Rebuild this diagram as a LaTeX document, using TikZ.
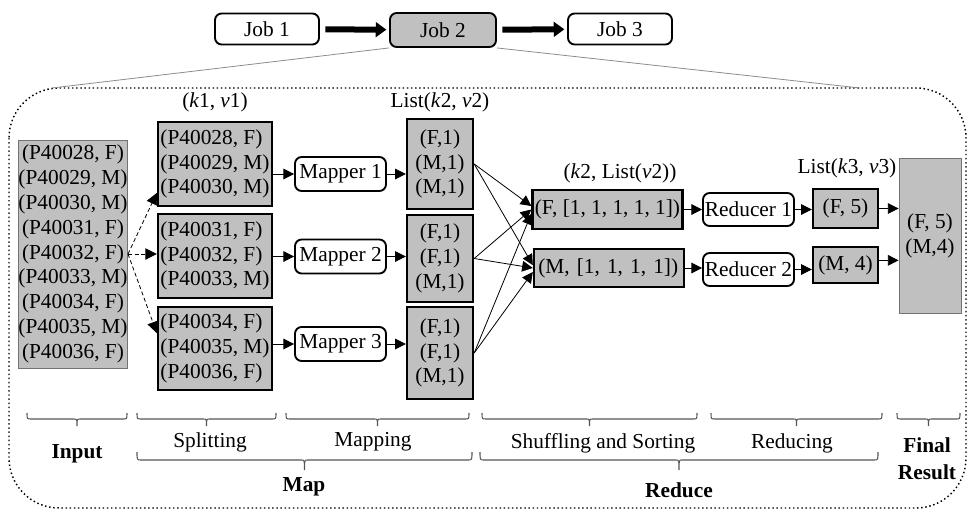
\documentclass[tikz,border=0pt]{standalone}
\usepackage{fontspec}
\setmainfont{Liberation Serif}
\usetikzlibrary{arrows.meta}
\definecolor{boxgray}{RGB}{192,192,192}
\definecolor{bracegray}{RGB}{85,85,85}
\newcommand{\mybrace}[5]{%
  \draw[bracestyle] (#1,#3) .. controls (#1,{#3+#4}) .. ({#1+4},{#3+#4})
    -- ({(#1+#2)/2-3},{#3+#4}) .. controls ({(#1+#2)/2},{#3+#4}) .. ({(#1+#2)/2},{#3+#4+#5})
    .. controls ({(#1+#2)/2},{#3+#4}) .. ({(#1+#2)/2+3},{#3+#4})
    -- ({#2-4},{#3+#4}) .. controls (#2,{#3+#4}) .. (#2,#3);}
\begin{document}
\begin{tikzpicture}[x=0.75pt,y=-0.75pt,
  every node/.style={font=\fontsize{16pt}{18.6pt}\selectfont, inner sep=0pt},
  inbox/.style={fill=boxgray, draw=black!55, line width=0.7pt, align=center},
  gbox/.style={fill=boxgray, draw=black, line width=1.8pt},
  rbox/.style={fill=white, draw=black, line width=1.4pt, rounded corners=5pt},
  arr/.style={-{Triangle[length=8pt,width=8pt]}, line width=0.6pt},
  darr/.style={-{Triangle[length=8.5pt,width=8.5pt]}, line width=0.6pt, dash pattern=on 3pt off 2pt},
  bigarr/.style={-{Triangle[length=8pt,width=11pt]}, line width=4.5pt, shorten <=4pt, shorten >=2pt},
  bold/.style={font=\fontsize{16pt}{20.25pt}\selectfont\bfseries},
  bracestyle/.style={draw=bracegray, line width=0.8pt},
  zoomline/.style={draw=black!45, line width=0.6pt}
]
\useasboundingbox (0,0) rectangle (968,511);

% dotted frame
\draw[dotted, line width=1.1pt, rounded corners=37.5pt] (9,88) rectangle (966,508);

% top jobs
\node[rbox, minimum width=78pt, minimum height=23.25pt] (J1) at (267,29) {Job 1};
\node[rbox, fill=boxgray, minimum width=79.5pt, minimum height=25.5pt] (J2) at (443,30) {Job 2};
\node[rbox, minimum width=78pt, minimum height=23.25pt] (J3) at (620,29) {Job 3};
\draw[bigarr] (J1) -- (J2);
\draw[bigarr] (J2) -- (J3);
\coordinate (zl) at (52,88);
\coordinate (zr) at (860,88);
\draw[zoomline] (J2.south west) -- (zl);
\draw[zoomline] (J2.south east) -- (zr);

% input
\node[inbox, minimum width=81pt, minimum height=171pt] (In) at (73,254)
  {(P40028, F)\\(P40029, M)\\(P40030, M)\\(P40031, F)\\(P40032, F)\\(P40033, M)\\(P40034, F)\\(P40035, M)\\(P40036, F)};

% splits
\node (lk1) at (215,102) {(\textit{k}1, \textit{v}1)};
\node[gbox, align=left, minimum width=85.5pt, minimum height=63pt] (S1) at (215,164) {(P40028, F)\\(P40029, M)\\(P40030, M)};
\node[gbox, align=left, minimum width=85.5pt, minimum height=63pt] (S2) at (215,256) {(P40031, F)\\(P40032, F)\\(P40033, M)};
\node[gbox, align=left, minimum width=85.5pt, minimum height=62.25pt] (S3) at (215,348.5) {(P40034, F)\\(P40035, M)\\(P40036, F)};

\draw[darr] (In.east) -- ([yshift=-21.75pt]S1.west);
\draw[darr] (In.east) -- (S2.west |- In.east);
\draw[darr] (In.east) -- ([yshift=11.6pt]S3.west);

% mappers
\node[rbox, minimum width=68.25pt, minimum height=25.5pt] (Mp1) at (340.5,174) {Mapper 1};
\node[rbox, minimum width=68.25pt, minimum height=25.5pt] (Mp2) at (340.5,256.5) {Mapper 2};
\node[rbox, minimum width=68.25pt, minimum height=25.5pt] (Mp3) at (340.5,344) {Mapper 3};
\draw[arr] (S1.east |- Mp1.west) -- (Mp1.west);
\draw[arr] (S2.east |- Mp2.west) -- (Mp2.west);
\draw[arr] (S3.east |- Mp3.west) -- (Mp3.west);

% lists k2 v2
\node (lk2) at (440,102) {List(\textit{k}2, \textit{v}2)};
\node[gbox, align=center, minimum width=49.5pt, minimum height=67.5pt] (L1) at (440,164) {(F,1)\\(M,1)\\(M,1)};
\node[gbox, align=center, minimum width=49.5pt, minimum height=65.25pt] (L2) at (440,258.5) {(F,1)\\(F,1)\\(M,1)};
\node[gbox, align=center, minimum width=49.5pt, minimum height=69pt] (L3) at (440,353) {(F,1)\\(F,1)\\(M,1)};
\draw[arr] (Mp1.east) -- (Mp1.east -| L1.west);
\draw[arr] (Mp2.east) -- (Mp2.east -| L2.west);
\draw[arr] (Mp3.east) -- (Mp3.east -| L3.west);

% shuffle
\node (lsh) at (620,173) {(\textit{k}2, List(\textit{v}2))};
\node[gbox, minimum width=112.5pt, minimum height=29.25pt] (F) at (607.5,209.5) {(F, [1, 1, 1, 1, 1])};
\node[gbox, align=left, text width=106pt, minimum width=112.5pt, minimum height=28.5pt] (M) at (609,268) {(M, [1, 1, 1, 1])};

\draw[arr] (L1.east) -- ([yshift=2.6pt]F.west);
\draw[arr] (L2.east) -- (F.west);
\draw[arr] (L3.east) -- ([yshift=-3.2pt]F.west);
\draw[arr] (L1.east) -- ([yshift=2.2pt]M.west);
\draw[arr] (L2.east) -- (M.west);
\draw[arr] (L3.east) -- ([yshift=-3pt]M.west);

% reducers
\node[rbox, minimum width=68.25pt, minimum height=24.75pt] (R1) at (748.5,209.5) {Reducer 1};
\node[rbox, minimum width=68.25pt, minimum height=24.75pt] (R2) at (748.5,269.5) {Reducer 2};
\draw[arr] (F.east) -- (R1.west);
\draw[arr] (M.east) -- (M.east -| R2.west);

% k3 v3
\node (lk3) at (847,168) {List(\textit{k}3, \textit{v}3)};
\node[gbox, minimum width=48.75pt, minimum height=29.25pt] (K1) at (845.5,208.5) {(F, 5)};
\node[gbox, minimum width=48.75pt, minimum height=27pt] (K2) at (845.5,265) {(M, 4)};
\draw[arr] (R1.east) -- (R1.east -| K1.west);
\draw[arr] (R2.east) -- (R2.east -| K2.west);

% final
\node[inbox, minimum width=46.5pt, minimum height=116.25pt] (Fin) at (930,235.5) {(F, 5)\\(M,4)};
\draw[arr] (K1.east) -- (K1.east -| Fin.west);
\draw[arr] ([yshift=3.5pt]K2.east) -- ([yshift=3.5pt]K2.east -| Fin.west);

% braces row 1
\mybrace{27}{127}{413}{6}{7}
\mybrace{137}{276}{413}{6}{7}
\mybrace{286}{469}{413}{6}{7}
\mybrace{482}{697}{413}{6}{7}
\mybrace{711}{882}{413}{6}{7}
\mybrace{897}{960}{413}{6}{7}
% braces row 2
\mybrace{137}{472}{452}{8}{10}
\mybrace{480}{878}{452}{8}{10}

% phase labels
\node[bold] (tin) at (77,454) {Input};
\node (tsp) at (210,442) {Splitting};
\node (tmp) at (373,442) {Mapping};
\node (tsh) at (603,443) {Shuffling and Sorting};
\node (trd) at (792,443) {Reducing};
\node[bold, align=center] (tfr) at (927,458.5) {Final\\Result};
\node[bold] (tmap) at (304,487) {Map};
\node[bold] (tred) at (679,490) {Reduce};
\end{tikzpicture}
\end{document}
